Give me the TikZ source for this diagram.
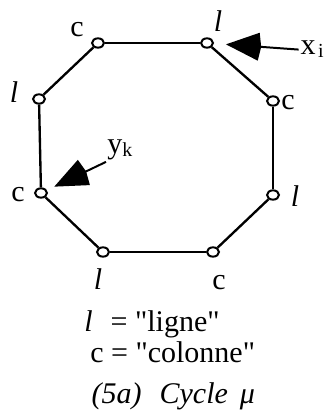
\documentclass[tikz,border=0pt]{standalone}
\usepackage{fontspec}
\setmainfont{Liberation Serif}[Ligatures=TeXOff]
\usetikzlibrary{arrows.meta,shapes.geometric}

\begin{document}
\begin{tikzpicture}[
    vtx/.style={draw,ellipse,fill=white,line width=1.7pt,inner sep=0pt,minimum width=0.36cm,minimum height=0.28cm},
    lbl/.style={font=\fontsize{25.6}{30}\selectfont,anchor=base,inner sep=0pt},
    ptr/.style={line width=1.7pt,-{Stealth[length=0.98cm,width=0.82cm,inset=-0.08cm]}}]
  \useasboundingbox (0,0) rectangle (9.9,12.42);
  % the eight vertices of the cycle
  \foreach \nm/\x/\y in {tl/2.94/11.13,tr/6.21/11.13,rc/8.19/9.39,rl/8.19/6.57,
                         br/6.39/4.86,bl/3.09/4.86,lc/1.23/6.63,ll/1.17/9.45}
    \node[vtx] (\nm) at (\x,\y) {};
  \foreach \a/\b in {tl/tr,tr/rc,rc/rl,rl/br,br/bl,bl/lc,lc/ll,ll/tl}
    \draw[line width=2pt] (\a) -- (\b);
  % vertex labels
  \foreach \nm/\x/\y/\t in {tl/2.31/11.31/c,tr/6.54/11.46/{\textit{l}},ll/0.42/9.33/{\textit{l}},
                            rc/8.64/9.12/c,lc/0.54/6.36/c,rl/8.85/6.21/{\textit{l}},
                            bl/2.94/3.72/{\textit{l}},br/6.57/3.72/c}
    \node[lbl] (lab\nm) at (\x,\y) {\t};
  % pointers
  \node[lbl,anchor=base west,inner sep=1.5pt] (xi) at (8.96,10.77)
    {x\hspace{2pt}\raisebox{-2.5pt}{\fontsize{17}{17}\selectfont i}};
  \node[lbl,anchor=base west,inner sep=1pt] (yk) at (3.18,7.8)
    {y\raisebox{-2.5pt}{\fontsize{17}{17}\selectfont k}};
  \draw[ptr,shorten >=0.36cm] (xi.west) -- (tr);
  \draw[ptr,shorten >=0.24cm] (yk.south west) -- (lc);
  % legend
  \node[lbl] (keyl) at (4.56,2.46) {\textit{l}\hspace{0.6em}= "ligne"};
  \node[lbl] (keyc) at (5.18,1.53) {c = "colonne"};
  \node[lbl] (cap) at (5.2,0.3) {\textit{(5a)\hspace{0.6em}Cycle\hspace{0.4em}μ}};
\end{tikzpicture}
\end{document}
